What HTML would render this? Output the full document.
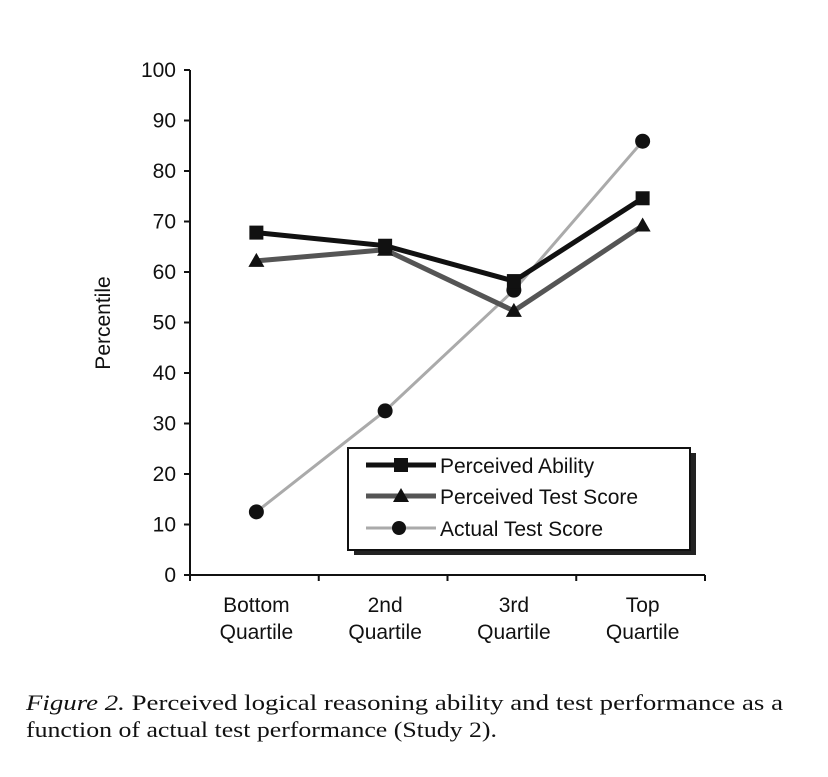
<!DOCTYPE html>
<html><head><meta charset="utf-8"><style>
body{margin:0;background:#fff;}
svg{display:block;}
text{font-family:"Liberation Sans",sans-serif;fill:#111;}
text.serif{font-family:"Liberation Serif",serif;}
</style></head><body>
<svg id="chart" width="828" height="777" xmlns="http://www.w3.org/2000/svg">
<rect width="828" height="777" fill="#fff"/>
<g id="axes"></g>
<g id="series"></g>
<g>
<rect x="354" y="453" width="342" height="102" fill="#222"/>
<rect x="348" y="448" width="342" height="102" fill="#fff" stroke="#111" stroke-width="2"/>
<line x1="366" y1="465" x2="436" y2="465" stroke="#111" stroke-width="5"/>
<rect x="394" y="458" width="14" height="14" fill="#111"/>
<text x="440" y="473" font-size="21">Perceived Ability</text>
<line x1="366" y1="496" x2="436" y2="496" stroke="#555" stroke-width="5"/>
<polygon points="401,488 409,502 393,502" fill="#111"/>
<text x="440" y="504" font-size="21">Perceived Test Score</text>
<line x1="366" y1="528" x2="436" y2="528" stroke="#aaa" stroke-width="3"/>
<circle cx="399" cy="528" r="7" fill="#111"/>
<text x="440" y="536" font-size="21">Actual Test Score</text>
</g>
<text transform="translate(110,323) rotate(-90)" text-anchor="middle" font-size="21">Percentile</text>
<text class="serif" x="26" y="710" font-size="22" textLength="757" lengthAdjust="spacingAndGlyphs"><tspan font-style="italic">Figure 2.</tspan>   Perceived logical reasoning ability and test performance as a</text>
<text class="serif" x="26" y="737" font-size="22" textLength="471" lengthAdjust="spacingAndGlyphs">function of actual test performance (Study 2).</text>
</svg>
<script>
const categories=[["Bottom","Quartile"],["2nd","Quartile"],["3rd","Quartile"],["Top","Quartile"]];
const perceivedAbility=[67.8,65.2,58.2,74.6];
const perceivedTestScore=[62.2,64.4,52.3,69.2];
const actualTestScore=[12.5,32.5,56.4,85.9];
const yTicks=[0,10,20,30,40,50,60,70,80,90,100];
const NS="http://www.w3.org/2000/svg";
const x0=190,x1=705,y0=575,y1=70;
const xs=i=>x0+(x1-x0)*(i+0.5)/categories.length+2;
const ys=v=>y0-(y0-y1)*v/100;
function mk(tag,attrs,parent){const e=document.createElementNS(NS,tag);for(const k in attrs)e.setAttribute(k,attrs[k]);parent.appendChild(e);return e;}
const ax=document.getElementById('axes'),sr=document.getElementById('series');
let l=mk('line',{x1:x0,y1:y0,x2:x0,y2:y1,stroke:'#111','stroke-width':2},ax);


l=mk('line',{x1:x0,y1:y0,x2:x1,y2:y0,stroke:'#111','stroke-width':2},ax);


yTicks.forEach(t=>{
 mk('line',{x1:x0-6,y1:ys(t),x2:x0,y2:ys(t),stroke:'#111','stroke-width':2},ax);
 const tx=mk('text',{x:x0-14,y:ys(t)+7,'text-anchor':'end','font-size':21},ax);tx.textContent=t;
 
 
});
for(let i=0;i<=categories.length;i++){const x=x0+(x1-x0)*i/categories.length;mk('line',{x1:x,y1:y0,x2:x,y2:y0+6,stroke:'#111','stroke-width':2},ax);}
categories.forEach((c,i)=>{c.forEach((s,j)=>{const tx=mk('text',{x:xs(i),y:612+j*27,'text-anchor':'middle','font-size':21},ax);tx.textContent=s;
 
 });});
function series(vals,stroke,w,name,marker){
 const p=mk('polyline',{points:vals.map((v,i)=>xs(i)+','+ys(v)).join(' '),fill:'none',stroke:stroke,'stroke-width':w},sr);
 
 
 vals.forEach((v,i)=>{const x=xs(i),y=ys(v);let m;
  if(marker==='sq')m=mk('rect',{x:x-7,y:y-7,width:14,height:14,fill:'#111'},sr);
  else if(marker==='tri')m=mk('polygon',{points:`${x},${y-8} ${x+8},${y+6} ${x-8},${y+6}`,fill:'#111'},sr);
  else m=mk('circle',{cx:x,cy:y,r:7.5,fill:'#111'},sr);
  
  });
}
series(actualTestScore,'#aaa',3,'actual-test-score','circ');
series(perceivedTestScore,'#555',5,'perceived-test-score','tri');
series(perceivedAbility,'#111',5,'perceived-ability','sq');
</script>
</body></html>
